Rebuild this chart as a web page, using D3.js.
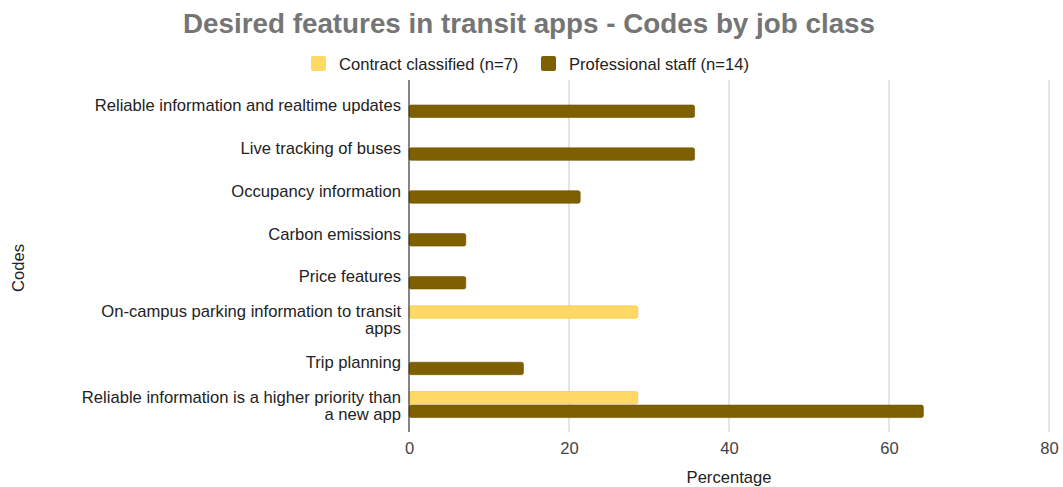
<!DOCTYPE html>
<html><head><meta charset="utf-8">
<script src="https://cdn.jsdelivr.net/npm/d3@7"></script>
<style>body{margin:0;background:#fff;} text{font-family:"Liberation Sans",Arial,sans-serif;}</style>
</head><body>
<svg id="c" width="1063" height="487"></svg>
<script>
const categories = [
  "Reliable information and realtime updates",
  "Live tracking of buses",
  "Occupancy information",
  "Carbon emissions",
  "Price features",
  "On-campus parking information to transit apps",
  "Trip planning",
  "Reliable information is a higher priority than a new app"
];
const labelLines = [
  ["Reliable information and realtime updates"],
  ["Live tracking of buses"],
  ["Occupancy information"],
  ["Carbon emissions"],
  ["Price features"],
  ["On-campus parking information to transit", "apps"],
  ["Trip planning"],
  ["Reliable information is a higher priority than", "a new app"]
];
const seriesNames = ["Contract classified (n=7)", "Professional staff (n=14)"];
const contractValues = [null, null, null, null, null, 28.6, null, 28.6];
const professionalValues = [35.7, 35.7, 21.4, 7.1, 7.1, null, 14.3, 64.3];
const xTicks = [0, 20, 40, 60, 80];
const colors = ["#ffd966", "#7f6000"];
const strokes = ["#f1c232", "#6b5100"];

const svg = d3.select("#c");
const x = d3.scaleLinear().domain([0, 80]).range([409, 1049]);
const y = d3.scaleBand().domain(categories).range([83, 426]);
const sub = d3.scaleBand().domain(seriesNames).range([-13, 13]).paddingInner(0.08);
const FS = 16.6;

// title
svg.append("text").attr("x", 529).attr("y", 33).attr("text-anchor", "middle")
  .attr("font-size", 27.8).attr("font-weight", "bold").attr("fill", "#757575")
  .text("Desired features in transit apps - Codes by job class");

// legend
const legend = [{name: seriesNames[0], x: 311}, {name: seriesNames[1], x: 541}];
legend.forEach((l, i) => {
  svg.append("rect").attr("x", l.x).attr("y", 56).attr("width", 15).attr("height", 15)
    .attr("rx", 2).attr("fill", colors[i]);
  svg.append("text").attr("x", l.x + 28).attr("y", 69.5).attr("font-size", FS)
    .attr("fill", "#222").text(l.name);
});

// gridlines
svg.append("g").selectAll("line").data(xTicks.slice(1)).join("line")
  .attr("x1", d => x(d)).attr("x2", d => x(d)).attr("y1", 80).attr("y2", 432)
  .attr("stroke", "#cccccc").attr("stroke-width", 1);

// bars
const data = [];
categories.forEach((c, i) => {
  [contractValues[i], professionalValues[i]].forEach((v, s) => {
    if (v != null) data.push({c, s, v});
  });
});
svg.append("g").selectAll("rect").data(data).join("rect")
  .attr("x", x(0))
  .attr("y", d => y(d.c) + y.bandwidth() / 2 + sub(seriesNames[d.s]))
  .attr("width", d => x(d.v) - x(0))
  .attr("height", sub.bandwidth())
  .attr("rx", 2)
  .attr("fill", d => colors[d.s])
  .attr("stroke", d => strokes[d.s]).attr("stroke-width", 0.6);

// y axis line
svg.append("line").attr("x1", x(0)).attr("x2", x(0)).attr("y1", 80).attr("y2", 432)
  .attr("stroke", "#333").attr("stroke-width", 1.2);

// x tick labels
const xAxis = svg.append("g").attr("transform", "translate(0,432)")
  .call(d3.axisBottom(x).tickValues(xTicks).tickSize(0).tickPadding(10).tickFormat(d3.format("d")));
xAxis.select(".domain").remove();
xAxis.selectAll("text").attr("font-size", FS).attr("fill", "#444").style("font-family", "'Liberation Sans',Arial,sans-serif");

// y labels
categories.forEach((c, i) => {
  const lines = labelLines[i];
  const cy = y(c) + y.bandwidth() / 2;
  const lh = 17;
  const t = svg.append("text").attr("text-anchor", "end").attr("font-size", FS).attr("fill", "#222");
  lines.forEach((ln, k) => {
    t.append("tspan").attr("x", 401)
      .attr("y", cy + 6.5 - (lines.length - 1) * lh / 2 + k * lh)
      .text(ln);
  });
});

// axis titles
svg.append("text").attr("x", 729).attr("y", 483).attr("text-anchor", "middle")
  .attr("font-size", FS).attr("fill", "#222").text("Percentage");
svg.append("text").attr("transform", "translate(24,268) rotate(-90)").attr("text-anchor", "middle")
  .attr("font-size", FS).attr("fill", "#222").text("Codes");
</script>
</body></html>
